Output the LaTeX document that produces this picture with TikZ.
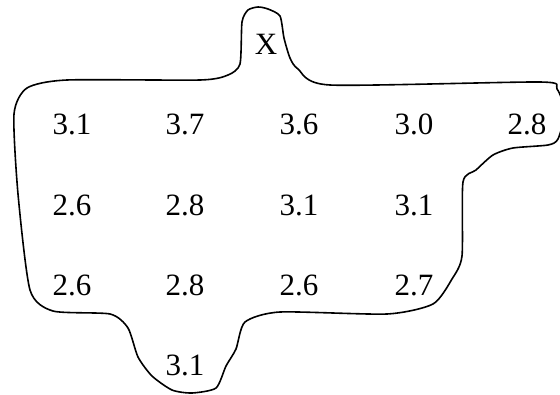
\documentclass[tikz,border=0pt]{standalone}
\usepackage{fontspec}
\setmainfont{Liberation Serif}
\tikzset{
  val/.style={font=\fontsize{31}{36}\selectfont, inner sep=0pt},
  outline/.style={line width=1.6pt, line join=round}
}
\begin{document}
\begin{tikzpicture}[x=1pt,y=-1pt]
\useasboundingbox (0,0) rectangle (560,394);

% boundary of the area
\draw[outline] plot[smooth cycle, tension=0.4] coordinates {
  (27,88) (67,80) (200,80) (228,75) (240,64) (242,22) (248,10) (258,7)
  (268,9) (280,16) (284,38) (290,58) (298,69) (330,85) (540,82) (557,89)
  (565,112) (558,139) (548,145) (513,148) (493,155) (476,170) (463,182)
  (462,256) (452,279) (433,304) (387,314) (280,312) (245,322) (236,349)
  (226,366) (216,388) (192,393) (172,390) (152,376) (138,357) (128,328)
  (110,314) (53,311) (30,290) (18,194) (14,114)
};

\node[val] at (266,44) (x) {X};

\node[val] at (72,124) (a1) {3.1};
\node[val] at (185,124) (a2) {3.7};
\node[val] at (299,124) (a3) {3.6};
\node[val] at (414,124) (a4) {3.0};
\node[val] at (527,124) (a5) {2.8};

\node[val] at (72,205) (b1) {2.6};
\node[val] at (185,205) (b2) {2.8};
\node[val] at (299,205) (b3) {3.1};
\node[val] at (414,205) (b4) {3.1};

\node[val] at (72,285) (c1) {2.6};
\node[val] at (185,285) (c2) {2.8};
\node[val] at (299,285) (c3) {2.6};
\node[val] at (414,285) (c4) {2.7};

\node[val] at (185,365) (d2) {3.1};

\end{tikzpicture}
\end{document}
